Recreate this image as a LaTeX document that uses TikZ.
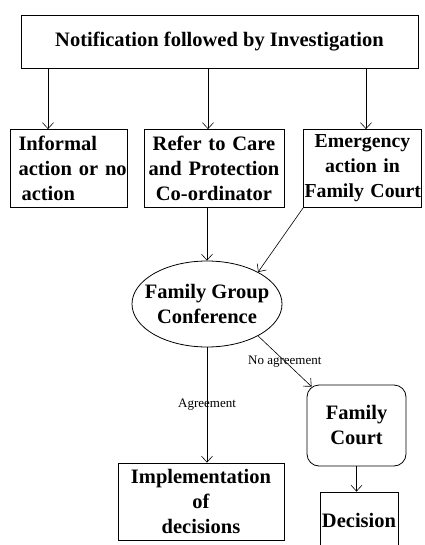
\documentclass[tikz,border=0pt]{standalone}
\usepackage{fontspec}
\setmainfont{Liberation Serif}
\usetikzlibrary{arrows.meta,shapes.geometric}
\begin{document}
\begin{tikzpicture}[x=1pt,y=-1pt,
    box/.style={draw, line width=0.8pt, inner sep=1pt, align=center,
      font=\bfseries\fontsize{20.5}{25}\selectfont},
    arr/.style={-{Straight Barb[length=6pt,width=11pt]}, line width=0.6pt},
    lbl/.style={font=\fontsize{13}{15}\selectfont, inner sep=0pt}]
  \useasboundingbox (0,0) rectangle (424,545);

  \node[box, minimum width=397pt, minimum height=53pt] (note) at (219.5,41.5) {Notification followed by Investigation};

  \node[box, text width=101pt, align=left, inner xsep=8pt, minimum height=78pt] (inf) at (69,168.5) {Informal\\\mbox{action or no}\\\hspace{3pt}action};
  \node[box, text width=138pt, minimum height=78pt] (refer) at (214,168.5) {Refer to Care\\\mbox{and Protection}\\Co-ordinator};
  \node[box, text width=116pt, minimum height=78pt, font=\bfseries\fontsize{19.8}{25}\selectfont] (emerg) at (362.5,168.5) {Emergency\\action in\\\mbox{Family Court}};
  \draw[arr] ([xshift=-21pt]inf.north |- note.south) -- ([xshift=-21pt]inf.north);
  \draw[arr] ([xshift=-6pt]refer.north |- note.south) -- ([xshift=-6pt]refer.north);
  \draw[arr] ([xshift=3.5pt]emerg.north |- note.south) -- ([xshift=3.5pt]emerg.north);

  \node[draw, ellipse, line width=0.8pt, minimum width=150pt, minimum height=86pt, inner sep=0pt,
    label={[align=center, font=\bfseries\fontsize{20.5}{25}\selectfont]center:Family Group\\Conference}] (fgc) at (207,304) {};
  \draw[arr] (fgc.north |- refer.south) -- (fgc.north);
  \draw[arr] (emerg.south west) -- (fgc.32);

  \node[box, rounded corners=12pt, minimum width=99pt, minimum height=81pt] (court) at (356.5,425.5) {Family\\Court};
  \node[box, minimum width=166pt, minimum height=77pt] (impl) at (201,501.5) {Implementation\\of\\decisions};
  \node[box, minimum width=78pt, minimum height=56pt] (dec) at (359,520) {Decision};

  \draw[arr] (fgc.-32) -- ([xshift=5pt,yshift=-2pt]court.north west) node[lbl, midway] {No agreement};
  \draw[arr] (fgc.south) -- (fgc.south |- impl.north) node[lbl, midway] {Agreement};
  \draw[arr] (court.south) -- (court.south |- dec.north);
\end{tikzpicture}
\end{document}
